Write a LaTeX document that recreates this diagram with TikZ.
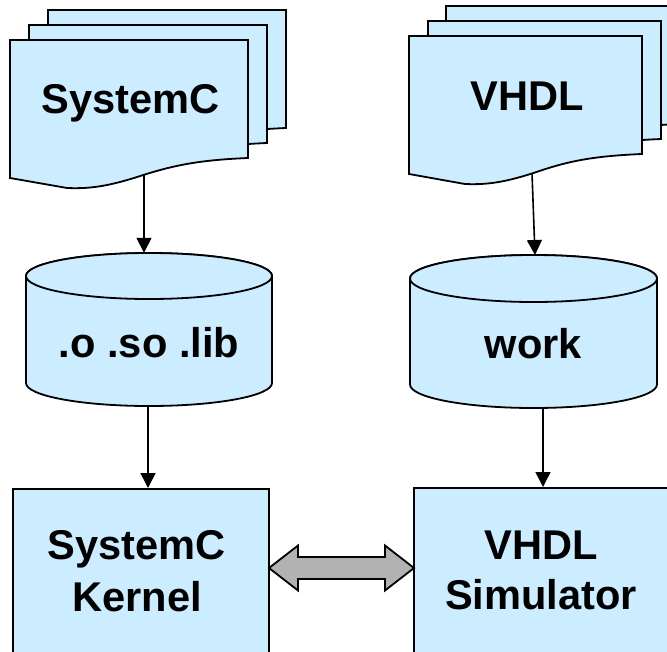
\documentclass[tikz,border=0pt]{standalone}
\usepackage{fontspec}
\setmainfont{Liberation Sans}
\usetikzlibrary{arrows.meta}
\definecolor{paleblue}{HTML}{CCECFF}
\definecolor{arrowgray}{HTML}{B2B2B2}

\tikzset{
  outline/.style={draw=black, line width=1.8pt, fill=paleblue, line join=miter},
  label text/.style={font=\fontsize{41.6}{52}\selectfont\bfseries, inner sep=0pt, text=black},
  flow/.style={line width=1.6pt, -{Triangle[length=15pt,width=15pt]}},
  blockbox/.style={outline, inner sep=0pt, minimum width=256pt, minimum height=200pt, anchor=north west},
  dbspan/.style={inner sep=0pt, minimum height=153pt},
}

% one sheet of a document stack: left, top, width
\newcommand\docsheet[3]{%
  \draw[outline, shift={(#1,#2)}] (0,0) -- (#3,0) -- (#3,118)
    .. controls ({#3-48},120) and ({#3-73},125) .. ({0.56*#3},135)
    .. controls ({0.42*#3},146) and ({0.34*#3},149) .. ({0.24*#3},148)
    -- (0,138) -- cycle;}

% database drum: centre x, top centre y, bottom centre y, x radius, y radius
\newcommand\drum[5]{%
  \draw[outline] ({#1-#4},#2) -- ({#1-#4},#3)
    arc[start angle=180, end angle=360, x radius=#4pt, y radius=#5pt]
    -- ({#1+#4},#2)
    arc[start angle=0, end angle=180, x radius=#4pt, y radius=#5pt] -- cycle;
  \draw[outline] (#1,#2) ellipse[x radius=#4pt, y radius=#5pt];}

\begin{document}
\begin{tikzpicture}[x=1pt, y=-1pt]
\useasboundingbox (0,0) rectangle (667,651);

% SystemC sources
\docsheet{48}{10}{238}
\docsheet{29}{25}{238}
\docsheet{10}{40}{238}
\node[label text, anchor=base] (scsrc) at (131,113) {SystemC};
\coordinate (scsrc-out) at (144,175);

% VHDL sources
\docsheet{446}{6}{233}
\docsheet{428}{21}{233}
\docsheet{409}{36}{233}
\node[label text, anchor=base] (vhdlsrc) at (527.5,110) {VHDL};
\coordinate (vhdlsrc-out) at (532,173);

% object libraries
\drum{149}{276}{383}{123}{23}
\node[dbspan, minimum width=246pt] (libdb) at (149,329.5) {};
\node[label text, anchor=base] (libtext) at (149,357) {.o .so .lib};
\coordinate (lib-out) at (148,406);

% VHDL work library
\drum{533.5}{278.5}{384.5}{123.5}{23.5}
\node[dbspan, minimum width=247pt] (workdb) at (533.5,331.5) {};
\node[label text, anchor=base] (worktext) at (533.5,358) {work};
\coordinate (work-in) at (535,255);
\coordinate (work-out) at (543,408);

% simulation engines
\node[blockbox] (kernel) at (12,488) {};
\node[label text, align=center] (kerneltext) at (137,571) {SystemC\\Kernel};
\node[blockbox] (vsim) at (413,487) {};
\node[label text, align=center, font=\fontsize{41.6}{50}\selectfont\bfseries] (vsimtext) at (541,570) {VHDL\\Simulator};

% flows
\draw[flow] (scsrc-out) -- (scsrc-out |- libdb.north);
\draw[flow] (vhdlsrc-out) -- (work-in);
\draw[flow] (lib-out) -- (lib-out |- kernel.north);
\draw[flow] (work-out) -- (work-out |- vsim.north);

% two-way coupling between kernel and simulator
\draw[line width=1.8pt, fill=arrowgray, line join=miter]
  (269,568) -- (298,545.5) -- (298,557) -- (385,557) -- (385,545.5)
  -- (414,568) -- (385,590.5) -- (385,579) -- (298,579) -- (298,590.5) -- cycle;
\end{tikzpicture}
\end{document}
